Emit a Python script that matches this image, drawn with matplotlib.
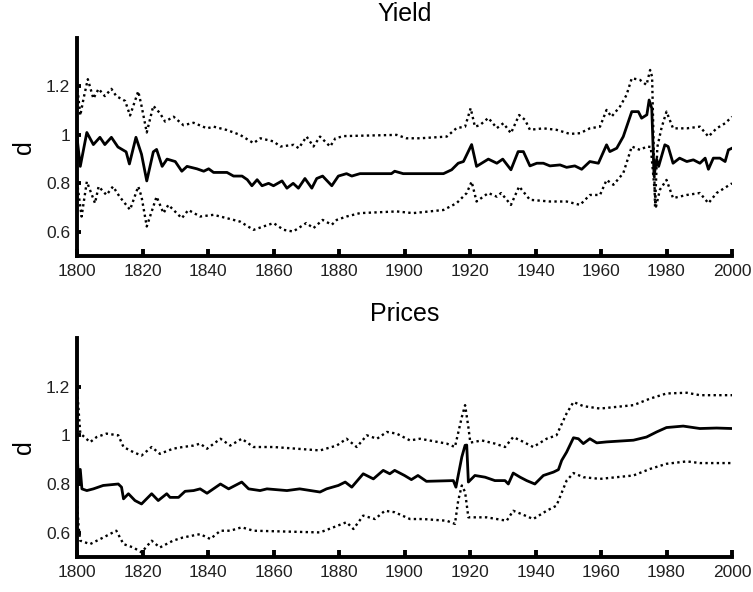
import numpy as np
import matplotlib
matplotlib.use("Agg")
import matplotlib.pyplot as plt

plt.rcParams['font.family'] = ['Liberation Sans', 'DejaVu Sans']

# (year, value) pairs
yield_mid = [
    (1800, 0.99), (1801, 0.87), (1803, 1.01), (1805, 0.96), (1807, 0.99), (1808.5, 0.96),
    (1810.5, 0.99), (1812.5, 0.95), (1815, 0.93), (1816, 0.88), (1818, 0.99), (1819.7, 0.92),
    (1821.3, 0.81), (1823.3, 0.93), (1824.3, 0.94), (1826, 0.87), (1827.5, 0.90), (1830, 0.89),
    (1832, 0.85), (1833.6, 0.87), (1836.6, 0.86), (1838.7, 0.85), (1840.2, 0.86), (1841.7, 0.845),
    (1845.8, 0.845), (1847.8, 0.83), (1850.4, 0.83), (1852, 0.815), (1853.4, 0.79), (1855, 0.815),
    (1856.5, 0.79), (1858.5, 0.80), (1860, 0.79), (1862.6, 0.81), (1864.1, 0.78), (1866, 0.80),
    (1867.6, 0.78), (1869.6, 0.82), (1871.7, 0.78), (1873.2, 0.82), (1875, 0.83), (1877.8, 0.79),
    (1879.8, 0.83), (1882.3, 0.84), (1883.9, 0.83), (1886.4, 0.84), (1896, 0.84), (1897, 0.85),
    (1899.6, 0.84), (1906.8, 0.84), (1911.9, 0.84), (1914.4, 0.856), (1916.4, 0.883), (1918, 0.89),
    (1920.5, 0.96), (1922, 0.87), (1925.6, 0.90), (1928.2, 0.883), (1930, 0.90), (1932.5, 0.856),
    (1934.7, 0.931), (1936.3, 0.931), (1938.3, 0.872), (1940.4, 0.883), (1942.4, 0.883),
    (1944.4, 0.872), (1947.5, 0.876), (1949.5, 0.866), (1952, 0.872), (1954.1, 0.858),
    (1956.6, 0.89), (1959.2, 0.883), (1961.7, 0.959), (1962.7, 0.931), (1964.8, 0.945),
    (1966.8, 0.993), (1969.4, 1.096), (1971.4, 1.096), (1972.4, 1.069), (1974, 1.083),
    (1974.7, 1.144), (1975.5, 1.11), (1976.2, 0.83), (1977, 0.90), (1977.6, 0.87),
    (1979.5, 0.959), (1980.5, 0.952), (1982, 0.883), (1984, 0.904), (1986.2, 0.89),
    (1988.2, 0.897), (1990.2, 0.883), (1991.8, 0.904), (1992.8, 0.858), (1994.3, 0.904),
    (1996.3, 0.904), (1997.9, 0.89), (1998.9, 0.938), (2000, 0.945),
]
yield_hi = [
    (1800, 1.21), (1801, 1.08), (1802, 1.15), (1803.3, 1.23), (1805, 1.15), (1806.6, 1.19),
    (1808.5, 1.16), (1810.5, 1.19), (1812, 1.16), (1814.7, 1.14), (1816.2, 1.08), (1818.7, 1.18),
    (1819.7, 1.12), (1821.3, 1.01), (1823.3, 1.12), (1825.3, 1.09), (1826.9, 1.055),
    (1829.5, 1.075), (1832.5, 1.04), (1835.6, 1.05), (1839.7, 1.027), (1841.7, 1.034),
    (1845.8, 1.02), (1849.8, 1.0), (1853.9, 0.966), (1856, 0.986), (1860, 0.973), (1862.1, 0.952),
    (1866.2, 0.959), (1867.7, 0.945), (1870.1, 0.993), (1872.2, 0.952), (1874.2, 0.993),
    (1877.3, 0.952), (1878.9, 0.986), (1881.4, 0.995), (1897.6, 1.0), (1900.6, 0.986),
    (1904.7, 0.986), (1912.9, 0.993), (1915.9, 1.028), (1918.5, 1.034), (1920.2, 1.11),
    (1921.5, 1.034), (1923, 1.04), (1925.6, 1.07), (1928.2, 1.028), (1930.2, 1.048),
    (1932.5, 1.007), (1935, 1.082), (1936.8, 1.062), (1938.3, 1.021), (1942.4, 1.027),
    (1946.4, 1.021), (1950.5, 1.004), (1953.6, 1.007), (1956.6, 1.027), (1959.7, 1.034),
    (1961.7, 1.103), (1963.2, 1.075), (1965.8, 1.117), (1967.8, 1.165), (1969.4, 1.234),
    (1971.9, 1.227), (1973.9, 1.206), (1975, 1.268), (1975.6, 1.24), (1976.5, 0.704),
    (1977.2, 0.95), (1978.5, 1.03), (1980, 1.096), (1982, 1.027), (1986.2, 1.027),
    (1990.2, 1.034), (1992.8, 0.993), (1995.3, 1.027), (1997.9, 1.048), (2000, 1.075),
]
yield_lo = [
    (1800, 0.807), (1801.4, 0.663), (1803, 0.807), (1805.5, 0.718), (1806.6, 0.787), (1809, 0.752),
    (1811, 0.787), (1813, 0.745), (1816.2, 0.691), (1818.7, 0.787), (1819.7, 0.745),
    (1821.3, 0.622), (1824.3, 0.745), (1826.4, 0.677), (1827.9, 0.711), (1832, 0.656),
    (1834, 0.69), (1837.6, 0.663), (1841.7, 0.67), (1845.8, 0.656), (1849.8, 0.642),
    (1853.9, 0.608), (1860, 0.636), (1863.1, 0.608), (1866, 0.601), (1870, 0.636),
    (1872.2, 0.615), (1875, 0.649), (1877.8, 0.629), (1879.3, 0.649), (1882.3, 0.663),
    (1886.4, 0.677), (1897.6, 0.684), (1902.6, 0.677), (1911.9, 0.69), (1915.9, 0.718),
    (1919, 0.76), (1920.5, 0.807), (1922, 0.725), (1925.6, 0.76), (1928.2, 0.745), (1929.5, 0.76),
    (1932.5, 0.711), (1935, 0.787), (1938.3, 0.732), (1944.4, 0.725), (1949.5, 0.725),
    (1953.6, 0.711), (1956.6, 0.752), (1959.7, 0.752), (1961.7, 0.814), (1963.8, 0.794),
    (1966.8, 0.842), (1969.4, 0.952), (1971.9, 0.938), (1974, 0.952), (1975.2, 0.95),
    (1976.8, 0.704), (1978, 0.774), (1980, 0.814), (1982, 0.739), (1986.2, 0.752),
    (1990.2, 0.76), (1992.8, 0.718), (1995.3, 0.76), (2000, 0.80),
]

prices_mid = [
    (1800, 0.94), (1800.5, 0.80), (1801, 0.86), (1801.5, 0.78), (1803, 0.773), (1805, 0.78),
    (1808, 0.794), (1812.6, 0.80), (1813.6, 0.787), (1814.2, 0.739), (1815.7, 0.76),
    (1817.7, 0.732), (1819.7, 0.718), (1822.8, 0.76), (1824.8, 0.732), (1827.4, 0.76),
    (1828.4, 0.745), (1831, 0.745), (1833, 0.77), (1835.6, 0.773), (1837.6, 0.78),
    (1839.7, 0.762), (1843.8, 0.80), (1846.3, 0.78), (1850.3, 0.808), (1852.4, 0.78),
    (1855.9, 0.773), (1858, 0.78), (1864.1, 0.773), (1868, 0.78), (1874.2, 0.767),
    (1876.2, 0.78), (1879.8, 0.794), (1881.9, 0.808), (1883.9, 0.787), (1887.4, 0.842),
    (1890.5, 0.821), (1893.5, 0.856), (1895.5, 0.842), (1897, 0.856), (1900, 0.835),
    (1902.1, 0.818), (1904.1, 0.835), (1906.7, 0.811), (1914.9, 0.814), (1915.7, 0.787),
    (1917.5, 0.911), (1918.5, 0.959), (1919, 0.96), (1919.5, 0.808), (1921.5, 0.835),
    (1924.6, 0.828), (1927.6, 0.814), (1930.7, 0.814), (1931.7, 0.80), (1933.2, 0.845),
    (1935.3, 0.828), (1937.3, 0.814), (1939.8, 0.80), (1942.4, 0.835), (1945.5, 0.849),
    (1947, 0.859), (1948, 0.897), (1949.5, 0.931), (1951.6, 0.99), (1953.1, 0.986),
    (1954.6, 0.966), (1956.6, 0.986), (1958.7, 0.969), (1961.7, 0.973), (1969.9, 0.98),
    (1973.9, 0.993), (1977, 1.014), (1980, 1.032), (1985.1, 1.038), (1990.2, 1.028),
    (1995.3, 1.03), (2000, 1.028),
]
prices_hi = [
    (1800, 1.206), (1800.5, 1.10), (1801, 1.008), (1804, 0.972), (1806, 0.993), (1809, 1.007),
    (1812.6, 1.0), (1814.2, 0.952), (1817.2, 0.931), (1819.7, 0.917), (1822.8, 0.952),
    (1825.3, 0.924), (1829.3, 0.945), (1832.3, 0.952), (1835.6, 0.958), (1837.6, 0.966),
    (1839.7, 0.945), (1843.8, 0.986), (1846.8, 0.958), (1850.3, 0.986), (1853.9, 0.952),
    (1860, 0.952), (1874.2, 0.938), (1879.3, 0.958), (1882.3, 0.986), (1885.4, 0.952),
    (1888.5, 1.0), (1891.6, 0.986), (1894.6, 1.014), (1897.6, 1.007), (1901.7, 0.979),
    (1904.7, 0.986), (1912.9, 0.966), (1915.4, 0.952), (1917.5, 1.075), (1918.5, 1.124),
    (1919.5, 1.034), (1920.1, 0.97), (1923.6, 0.979), (1927.6, 0.966), (1930.7, 0.952),
    (1933.2, 0.993), (1936, 0.975), (1939.3, 0.952), (1943.4, 0.986), (1946.4, 1.0),
    (1949.5, 1.09), (1951.6, 1.137), (1954.6, 1.12), (1959.7, 1.11), (1969.9, 1.124),
    (1975, 1.151), (1980, 1.172), (1986.2, 1.175), (1990.2, 1.165), (2000, 1.165),
]
prices_lo = [
    (1800, 0.732), (1800.5, 0.622), (1801, 0.567), (1804, 0.553), (1808, 0.58), (1812, 0.608),
    (1814.2, 0.553), (1817.2, 0.539), (1819.7, 0.519), (1822.8, 0.567), (1825.3, 0.539),
    (1829.3, 0.567), (1832.3, 0.58), (1837.6, 0.594), (1840.7, 0.574), (1843.8, 0.608),
    (1846.8, 0.608), (1850.3, 0.622), (1853.9, 0.608), (1874.2, 0.601), (1878.3, 0.622),
    (1882.3, 0.643), (1884.4, 0.615), (1887.4, 0.67), (1891, 0.656), (1894, 0.69),
    (1897, 0.684), (1901.7, 0.656), (1905.7, 0.656), (1912.9, 0.649), (1915.4, 0.636),
    (1916.4, 0.732), (1917.5, 0.794), (1918.5, 0.767), (1919.5, 0.663), (1925.1, 0.663),
    (1931.2, 0.649), (1933.2, 0.69), (1936, 0.675), (1939.3, 0.656), (1943.4, 0.69),
    (1946.4, 0.711), (1949.5, 0.814), (1951.6, 0.845), (1954.6, 0.828), (1959.7, 0.821),
    (1969.9, 0.835), (1975, 0.862), (1980, 0.883), (1986.2, 0.893), (1990.2, 0.886),
    (2000, 0.886),
]

xticks = list(range(1800, 2001, 20))
yticks = [0.6, 0.8, 1.0, 1.2]
ytick_labels = ['0.6', '0.8', '1', '1.2']

fig = plt.figure(figsize=(7.53, 5.92), dpi=100)
ax1 = fig.add_axes([77/753, 1-256/592, 655/753, 218/592])
ax2 = fig.add_axes([77/753, 1-557/592, 655/753, 219/592])

dot = (0, (1, 1.4))
for ax, title, mid, hi, lo in [(ax1, 'Yield', yield_mid, yield_hi, yield_lo),
                               (ax2, 'Prices', prices_mid, prices_hi, prices_lo)]:
    for series, style, lw in [(hi, dot, 1.7), (lo, dot, 1.7), (mid, '-', 2.0)]:
        arr = np.array(series)
        ax.plot(arr[:, 0], arr[:, 1], color='black', linestyle=style, linewidth=lw)

    ax.set_xlim(1800, 2000)
    ax.set_ylim(0.5, 1.4)
    ax.set_xticks(xticks)
    ax.set_yticks(yticks)
    ax.set_yticklabels(ytick_labels)
    for s in ['top', 'right']:
        ax.spines[s].set_visible(False)
    for s in ['left', 'bottom']:
        ax.spines[s].set_linewidth(2.8)
    ax.tick_params(axis='x', direction='in', length=5, width=2.8, labelsize=12.5, pad=6,
                   labelcolor='#202020')
    ax.tick_params(axis='y', direction='in', length=3, width=2.8, labelsize=12.5, pad=5,
                   labelcolor='#202020')
    ax.set_title(title, fontsize=18, pad=12)
    ax.set_ylabel('d', fontsize=18, labelpad=7)

fig.savefig('out.png', dpi=100)
